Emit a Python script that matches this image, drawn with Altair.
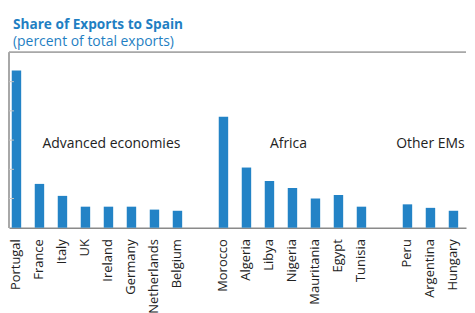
import altair as alt
import pandas as pd

# ---- data ----
advanced = ["Portugal", "France", "Italy", "UK", "Ireland", "Germany", "Netherlands", "Belgium"]
advanced_vals = [26.9, 7.5, 5.45, 3.6, 3.6, 3.6, 3.1, 2.9]
africa = ["Morocco", "Algeria", "Libya", "Nigeria", "Mauritania", "Egypt", "Tunisia"]
africa_vals = [19.0, 10.3, 8.0, 6.8, 5.0, 5.6, 3.6]
other = ["Peru", "Argentina", "Hungary", "Turkey"]
other_vals = [4.0, 3.4, 2.9, 2.9]
group_names = ["Advanced economies", "Africa", "Other EMs"]
y_ticks = [5, 10, 15, 20, 25]

# blank slots separate the groups; the source chart is cropped on the right,
# so its last bar (Turkey) falls outside the visible range
gaps = [" ", "  "]
domain = advanced + [gaps[0]] + africa + [gaps[1]] + other[:3]

df = pd.DataFrame({
    "country": advanced + africa + other,
    "value": advanced_vals + africa_vals + other_vals,
})
ticks_df = pd.DataFrame({"y": y_ticks})

BLUE = "#2383c6"
TITLE_BLUE = "#1f7fc3"
FONT = "Open Sans"
W, H = 459, 176

xscale = alt.Scale(domain=domain, paddingInner=0.59, paddingOuter=0.23, align=0.26)
yscale = alt.Scale(domain=[0, 30], nice=False)

bars = alt.Chart(df).transform_filter(
    alt.FieldOneOfPredicate(field="country", oneOf=domain)
).mark_bar(color=BLUE).encode(
    x=alt.X("country:N", scale=xscale, sort=domain,
            axis=alt.Axis(title=None, labelAngle=270, labelFontSize=13, labelFont=FONT,
                          labelColor="#222222", ticks=False, tickSize=0, labelPadding=11,
                          domainColor="#8a8a8a", domainWidth=1.5)),
    y=alt.Y("value:Q", scale=yscale, axis=None),
)

yt = alt.Chart(ticks_df).mark_rule(color="#c4c4c4", strokeWidth=1).encode(
    y=alt.Y("y:Q", scale=yscale, axis=None),
    x=alt.value(0),
    x2=alt.value(5),
)

frame_top = alt.Chart(ticks_df).mark_rule(color="#a8a8a8", strokeWidth=1.3).encode(
    x=alt.value(0), x2=alt.value(W), y=alt.value(0)
)
frame_left = alt.Chart(ticks_df).mark_rule(color="#a8a8a8", strokeWidth=1.3).encode(
    x=alt.value(0), y=alt.value(0), y2=alt.value(H)
)

def group_label(name, anchor, dx):
    return alt.Chart(pd.DataFrame({"label": [name], "anchor": [anchor]})).mark_text(
        font=FONT, fontSize=14, color="#222222", align="center", baseline="middle", dx=dx
    ).encode(
        x=alt.X("anchor:N", scale=xscale, sort=domain),
        y=alt.value(92),
        text="label:N",
    )

lab1 = group_label(group_names[0], advanced[4], 3)
lab2 = group_label(group_names[1], africa[3], -4)
lab3 = group_label(group_names[2], other[1], 0)

chart = alt.layer(frame_top, frame_left, bars, yt, lab1, lab2, lab3).properties(
    width=W,
    height=H,
    title=alt.TitleParams(
        text="Share of Exports to Spain",
        subtitle="(percent of total exports)",
        anchor="start", frame="group", dx=4, offset=3,
        font=FONT, fontSize=13.7, fontWeight="bold", color=TITLE_BLUE,
        subtitleFont=FONT, subtitleFontSize=14, subtitleColor=TITLE_BLUE,
        subtitlePadding=3,
    ),
    padding={"left": 0, "top": 9, "right": 0, "bottom": 0},
).configure_view(
    stroke=None
)

chart.save("out.html", embed_options={"renderer": "svg", "actions": False})
